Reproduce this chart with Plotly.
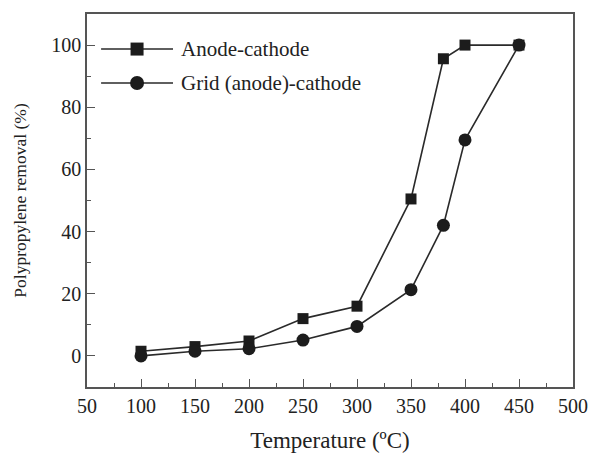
import plotly.graph_objects as go

temps = [100, 150, 200, 250, 300, 350, 380, 400, 450]
anode_cathode = [1.5, 3.0, 4.8, 12.0, 16.0, 50.5, 95.6, 100.0, 100.0]
grid_anode_cathode = [0.0, 1.5, 2.3, 5.1, 9.5, 21.3, 42.0, 69.5, 100.0]
series_names = ["Anode-cathode", "Grid (anode)-cathode"]
x_ticks = [50, 100, 150, 200, 250, 300, 350, 400, 450, 500]
y_ticks = [0, 20, 40, 60, 80, 100]

FONT = "Liberation Serif, Times New Roman, serif"
LINE = "#2a2a2a"
MARK = "#1c1c1c"
AX = "#555555"
TXT = "#222222"

fig = go.Figure()
fig.add_trace(go.Scatter(x=temps, y=anode_cathode, mode="lines+markers",
                         name=series_names[0],
                         line=dict(color=LINE, width=1.6),
                         marker=dict(symbol="square", size=11, color=MARK)))
fig.add_trace(go.Scatter(x=temps, y=grid_anode_cathode, mode="lines+markers",
                         name=series_names[1],
                         line=dict(color=LINE, width=1.6),
                         marker=dict(symbol="circle", size=13, color=MARK)))

# manual legend (lines + markers + text) in paper coordinates
legend_rows = [0.906, 0.815]
for i, (name, yy) in enumerate(zip(series_names, legend_rows)):
    fig.add_shape(type="line", xref="paper", yref="paper",
                  x0=0.029, x1=0.177, y0=yy, y1=yy,
                  line=dict(color=LINE, width=1.6))
    fig.add_shape(type="rect" if i == 0 else "circle",
                  xref="paper", yref="paper", xsizemode="pixel", ysizemode="pixel",
                  xanchor=0.103, yanchor=yy,
                  x0=-6.5 if i == 0 else -7, x1=6.5 if i == 0 else 7,
                  y0=-6.5 if i == 0 else -7, y1=6.5 if i == 0 else 7,
                  fillcolor=MARK, line=dict(color=MARK, width=0))
    fig.add_annotation(xref="paper", yref="paper", x=0.19, y=yy, text=name,
                       showarrow=False, xanchor="left", yanchor="middle",
                       font=dict(family=FONT, size=21, color=TXT))

axis_common = dict(showline=True, linecolor=AX, linewidth=1.6, mirror=True,
                   ticks="inside", ticklen=8, tickwidth=1.4, tickcolor=AX,
                   showgrid=False, zeroline=False, automargin=False,
                   tickfont=dict(family=FONT, size=20, color=TXT),
                   minor=dict(ticks="inside", ticklen=4, tickwidth=1.2, tickcolor=AX))

fig.update_xaxes(range=[50, 500], tickvals=x_ticks,
                 title=dict(text="Temperature (ºC)", font=dict(family=FONT, size=23, color=TXT), standoff=16),
                 **axis_common)
fig.update_xaxes(minor_dtick=25, minor_tick0=50)
fig.update_yaxes(range=[-10, 110], tickvals=y_ticks,
                 title=dict(text="Polypropylene removal (%)", font=dict(family=FONT, size=17.5, color=TXT), standoff=20),
                 **axis_common)
fig.update_yaxes(minor_dtick=10, minor_tick0=0)

fig.update_layout(width=591, height=454, showlegend=False,
                  margin=dict(l=87, r=18, t=14, b=67),
                  plot_bgcolor="white", paper_bgcolor="white")

fig.write_html("out.html", config={"displayModeBar": False},
               post_script="document.body.style.margin='0';document.body.style.overflow='hidden';")
